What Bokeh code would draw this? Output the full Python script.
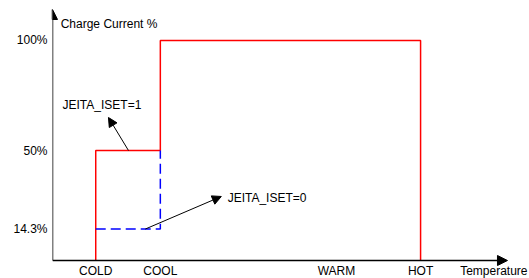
from bokeh.plotting import figure
from bokeh.models import Range1d, LinearAxis, FixedTicker, Arrow, NormalHead, ColumnDataSource
from bokeh.core.properties import value
from bokeh.embed import file_html
from bokeh.resources import INLINE

# ---- data (temperature: schematic position along the axis, current in %) ----
temp_ticks = [9.5, 23.7, 62.4, 80.9]
temp_labels = ["COLD", "COOL", "WARM", "HOT"]
current_ticks = [14.3, 50, 100]
current_labels = ["14.3%", "50%", "100%"]

iset1_x = [9.5, 9.5, 23.7, 23.7, 80.9, 80.9]
iset1_y = [0, 50, 50, 100, 100, 0]
iset0_x = [9.5, 23.7, 23.7]
iset0_y = [14.3, 14.3, 50]

note_text = ["JEITA_ISET=1", "JEITA_ISET=0"]
title_text = ["Charge Current %", "Temperature"]

# ---- layout (data units) ----
note_x = [2.2, 38.5]
note_y = [70.8, 28.5]
ptr_x0 = [16.7, 20.4]
ptr_y0 = [50, 14.3]
ptr_x1 = [12.3, 37.1]
ptr_y1 = [65.0, 29.1]
title_x = [1.8, 89.6]
title_y = [107.6, -4.8]
x_axis_end = 100
y_axis_end = 114.1

FONT = "Liberation Sans"

p = figure(width=529, height=278, x_range=Range1d(0, 104.84), y_range=Range1d(-8.18, 118.18),
           output_backend="svg", toolbar_location=None,
           x_axis_type=None, y_axis_type=None,
           min_border_left=52, min_border_right=0, min_border_top=0, min_border_bottom=0)
p.outline_line_color = None
p.background_fill_color = "white"
p.border_fill_color = "white"

# y axis (labels only; line drawn as arrow)
yax = LinearAxis(ticker=FixedTicker(ticks=current_ticks),
                 major_label_overrides=dict(zip(current_ticks, current_labels)))
yax.axis_line_color = None
yax.major_tick_line_color = None
yax.minor_tick_line_color = None
yax.major_tick_out = 0
yax.major_tick_in = 0
yax.major_label_standoff = 5
yax.major_label_text_font = FONT
yax.major_label_text_font_size = "12px"
yax.major_label_text_color = "black"
p.add_layout(yax, "left")

# x axis fixed at y=0
xax = LinearAxis(ticker=FixedTicker(ticks=temp_ticks), fixed_location=0,
                 major_label_overrides=dict(zip(temp_ticks, temp_labels)))
xax.axis_line_color = None
xax.major_tick_line_color = None
xax.minor_tick_line_color = None
xax.major_tick_out = 0
xax.major_tick_in = 0
xax.major_label_standoff = 3
xax.major_label_text_font = FONT
xax.major_label_text_font_size = "12px"
xax.major_label_text_color = "black"
p.add_layout(xax, "below")

# profiles
p.line(iset1_x, iset1_y, line_color="#FF0000", line_width=1.5)
p.line(iset0_x, iset0_y, line_color="#0000FF", line_width=1.5, line_dash="10 5")

# axis arrows
p.add_layout(Arrow(end=NormalHead(size=10, fill_color="black", line_color="black"),
                   x_start=0, y_start=0, x_end=x_axis_end, y_end=0,
                   line_color="black", line_width=1.5))
p.add_layout(Arrow(end=NormalHead(size=10, fill_color="black", line_color="black"),
                   x_start=0, y_start=0, x_end=0, y_end=y_axis_end,
                   line_color="black", line_width=1.5))

# pointer arrows
for i in range(len(note_text)):
    p.add_layout(Arrow(end=NormalHead(size=9, fill_color="black", line_color="black"),
                       x_start=ptr_x0[i], y_start=ptr_y0[i], x_end=ptr_x1[i], y_end=ptr_y1[i],
                       line_color="black", line_width=1))

texts = ColumnDataSource(dict(x=note_x + title_x, y=note_y + title_y, t=note_text + title_text))
p.text(x="x", y="y", text="t", source=texts, text_font=value(FONT), text_font_size="12px",
       text_color="black", text_align="left", text_baseline="alphabetic")

open("out.html", "w").write(file_html(p, INLINE))
